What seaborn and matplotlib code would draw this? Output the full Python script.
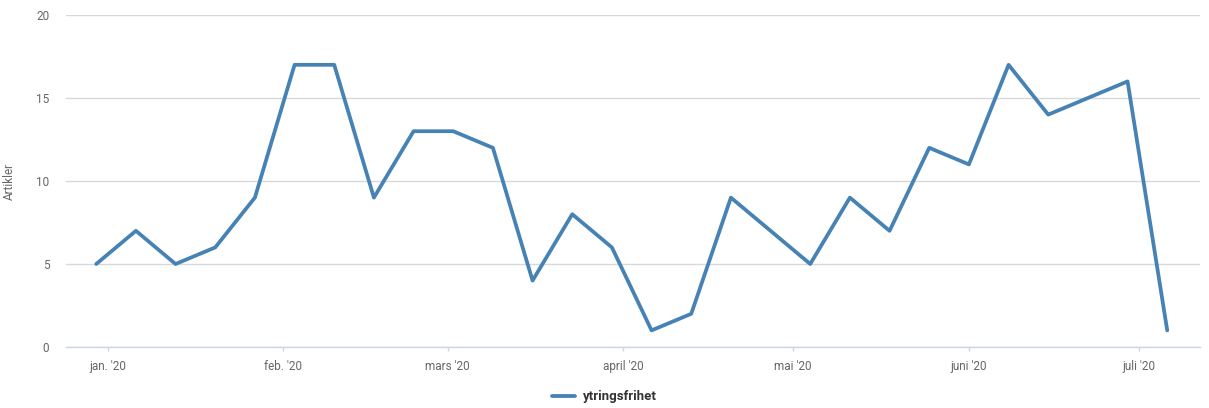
import matplotlib
matplotlib.use("Agg")
import matplotlib.pyplot as plt
import seaborn as sns
import numpy as np
import pandas as pd

# Weekly article counts (weeks starting Monday)
week_start = "2019-12-30"
n_weeks = 28
articles = [5, 7, 5, 6, 9, 17, 17, 9, 13, 13, 12, 4, 8, 6,
            1, 2, 9, 7, 5, 9, 7, 12, 11, 17, 14, 15, 16, 1]
series_name = "ytringsfrihet"

month_ticks = ["2020-01-01", "2020-02-01", "2020-03-01", "2020-04-01",
               "2020-05-01", "2020-06-01", "2020-07-01"]
month_labels = ["jan. '20", "feb. '20", "mars '20", "april '20",
                "mai '20", "juni '20", "juli '20"]
y_ticks = [0, 5, 10, 15, 20]


def plot_articles(save_path="out.png"):
    df = pd.DataFrame({
        "week": pd.date_range(week_start, periods=n_weeks, freq="7D"),
        "count": articles,
        "series": series_name,
    })

    sns.set_theme(style="white")
    plt.rcParams["font.family"] = ["Roboto", "DejaVu Sans"]

    fig = plt.figure(figsize=(12.09, 4.08), dpi=100)
    ax = fig.add_axes([0.0546, 0.1495, 0.9380, 0.8137])

    sns.lineplot(data=df, x="week", y="count", hue="series",
                 palette=["#4682b4"], linewidth=2.7, ax=ax, legend=True)

    # axes limits
    ax.set_xlim(pd.Timestamp("2019-12-24 16:00"), pd.Timestamp("2020-07-11 19:00"))
    ax.set_ylim(0, 20)

    # grid
    ax.set_yticks(y_ticks)
    ax.yaxis.grid(True, color="#d8d8d8", linewidth=1)
    ax.xaxis.grid(False)
    ax.set_axisbelow(True)

    for s in ["top", "right", "left"]:
        ax.spines[s].set_visible(False)
    ax.spines["bottom"].set_color("#ccd6eb")
    ax.spines["bottom"].set_linewidth(1)

    ax.set_xticks(pd.to_datetime(month_ticks))
    ax.set_xticklabels(month_labels)
    ax.tick_params(axis="x", colors="#ccd6eb", labelcolor="#666666",
                   length=3, width=1, labelsize=8.5, pad=6, direction="out",
                   bottom=True)
    ax.tick_params(axis="y", length=0, labelcolor="#666666", labelsize=8.5, pad=12)

    ax.set_xlabel("")
    ax.set_ylabel("Artikler", color="#666666", fontsize=8.5)
    ax.yaxis.set_label_coords(-0.044, 0.5)

    # legend at the bottom centre of the figure
    handles, labels = ax.get_legend_handles_labels()
    ax.get_legend().remove()
    leg = fig.legend(handles, labels, loc="center", bbox_to_anchor=(0.5, 0.027),
                     frameon=False, fontsize=9.5, handlelength=1.7,
                     handletextpad=0.6)
    for t in leg.get_texts():
        t.set_fontweight("bold")
        t.set_color("#333333")

    if save_path:
        fig.savefig(save_path, dpi=100)
    return fig


if __name__ == "__main__":
    plot_articles("out.png")
